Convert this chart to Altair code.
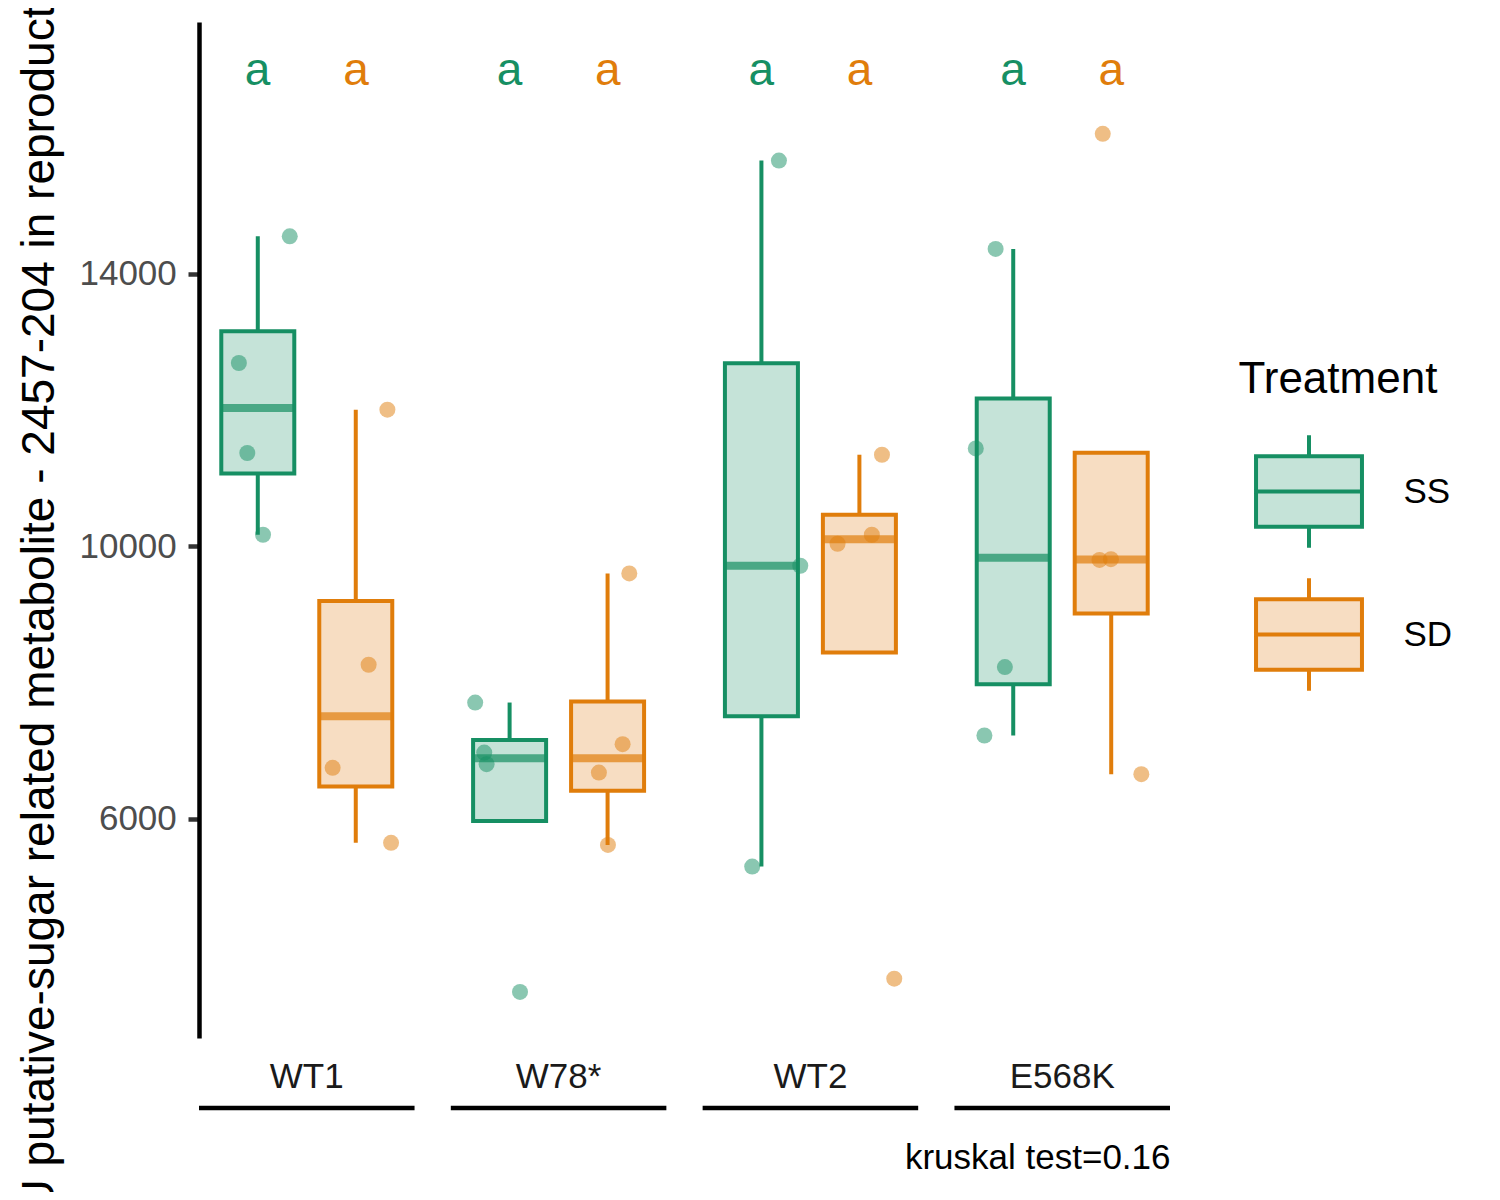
import altair as alt
import pandas as pd

# ---------------- data ----------------
genotypes = ["WT1", "W78*", "WT2", "E568K"]
treatments = ["SS", "SD"]

values = {
    ("WT1", "SS"): [14547, 12689, 11368, 10169],
    ("WT1", "SD"): [12004, 8261, 6749, 5648],
    ("W78*", "SS"): [7707, 6973, 6803, 3461],
    ("W78*", "SD"): [9601, 7096, 6680, 5618],
    ("WT2", "SS"): [15659, 9714, 5300],
    ("WT2", "SD"): [11343, 10169, 10037, 3656],
    ("E568K", "SS"): [14362, 11436, 8227, 7223],
    ("E568K", "SD"): [16051, 9800, 9810, 6656],
}
# horizontal jitter of each point (fraction of the genotype band)
jitter = {
    ("WT1", "SS"): [0.149, -0.087, -0.048, 0.025],
    ("WT1", "SD"): [0.146, 0.059, -0.108, 0.163],
    ("W78*", "SS"): [-0.159, -0.117, -0.106, 0.049],
    ("W78*", "SD"): [0.100, 0.069, -0.041, 0.001],
    ("WT2", "SS"): [0.082, 0.181, -0.042],
    ("WT2", "SD"): [0.104, 0.057, -0.102, 0.161],
    ("E568K", "SS"): [-0.081, -0.173, -0.038, -0.133],
    ("E568K", "SD"): [-0.040, -0.055, -0.002, 0.139],
}
letters = {
    ("WT1", "SS"): "a", ("WT1", "SD"): "a",
    ("W78*", "SS"): "a", ("W78*", "SD"): "a",
    ("WT2", "SS"): "a", ("WT2", "SD"): "a",
    ("E568K", "SS"): "a", ("E568K", "SD"): "a",
}
y_title = "AU putative-sugar related metabolite - 2457-204 in reproductive tissue"
caption = "kruskal test=0.16"

dark = ["#168F63", "#E07D0B"]
light = ["#C5E3D8", "#F7DDC2"]

# ---------------- tables ----------------
dodge = {"SS": -0.228, "SD": 0.228}
rows = []
for (g, t), vals in values.items():
    for v, j in zip(vals, jitter[(g, t)]):
        rows.append({"genotype": g, "treatment": t, "value": v,
                     "xoff": dodge[t] + j})
df = pd.DataFrame(rows)

top = 1.06 * df["value"].max()
lab_df = pd.DataFrame([{"genotype": g, "treatment": t, "letter": l, "ly": top,
                        "xoff": dodge[t]}
                       for (g, t), l in letters.items()])
geno_df = pd.DataFrame({"genotype": genotypes})

# ---------------- encodings ----------------
W, H = 971, 1016
FONT = "Liberation Sans"

y_scale = alt.Scale(domain=[2785, 17692], nice=False, zero=False)
x_enc = alt.X(
    "genotype:N", sort=genotypes,
    scale=alt.Scale(domain=genotypes, paddingInner=0.144, paddingOuter=0),
    axis=alt.Axis(
        title=caption, titleAnchor="end", titleY=102, titleFontSize=35,
        titleFontWeight="normal", titleColor="black",
        labelFontSize=35, labelColor="#1A1A1A", labelPadding=21,
        ticks=False, tickSize=0, domain=False, labelAngle=0,
    ),
)
xoff_nom = alt.XOffset(
    "treatment:N", sort=treatments,
    scale=alt.Scale(type="band", domain=treatments, paddingInner=0, paddingOuter=0.1),
)
xoff_q = alt.XOffset("xoff:Q", scale=alt.Scale(domain=[-0.5, 0.5]))
# colour of lines, dots and letters (no legend of its own; domain listed in
# reverse order so that it stays apart from the fill/stroke legend)
col_dark = alt.Color("treatment:N",
                     scale=alt.Scale(domain=treatments[::-1], range=dark[::-1]),
                     legend=None)

path = ("M-0.94,-0.624L0.94,-0.624L0.94,0.624L-0.94,0.624Z "
        "M-0.94,0L0.94,0 M0,-0.624L0,-1 M0,0.624L0,1")

leg = alt.Legend(
    title="Treatment", orient="none", legendX=1039.5, legendY=336,
    titleFontSize=44, titleFontWeight="normal", titleColor="black",
    titlePadding=31, titleLimit=500,
    labelFontSize=35, labelColor="black", labelOffset=36,
    symbolType=path, symbolSize=12700, symbolStrokeWidth=4,
    symbolOffset=12, rowPadding=14,
)

stats = (
    alt.Chart(df)
    .transform_joinaggregate(q1="q1(value)", q3="q3(value)", med="median(value)",
                             groupby=["genotype", "treatment"])
    .transform_calculate(lo="datum.q1 - 1.5*(datum.q3 - datum.q1)",
                         hi="datum.q3 + 1.5*(datum.q3 - datum.q1)")
    .transform_filter("datum.value >= datum.lo && datum.value <= datum.hi")
    .transform_aggregate(lw="min(value)", uw="max(value)", q1="min(q1)",
                         q3="min(q3)", med="min(med)",
                         groupby=["genotype", "treatment"])
)

whisker = stats.mark_rule(strokeWidth=4).encode(
    x=x_enc, xOffset=xoff_nom,
    y=alt.Y("lw:Q", scale=y_scale,
            axis=alt.Axis(title=y_title, values=[6000, 10000, 14000], format="d",
                          labelFontSize=35, labelColor="#4D4D4D",
                          tickSize=11, tickWidth=4.5, tickColor="#333333",
                          domainColor="black", domainWidth=4.5,
                          labelPadding=11.7, grid=False,
                          titleFontSize=46, titleFontWeight="normal",
                          titleColor="black", titlePadding=15,
                          titleY=506)),
    y2="uw:Q",
    color=col_dark,
)

box = stats.mark_bar(size=73, strokeWidth=4).encode(
    x=x_enc, xOffset=xoff_nom,
    y=alt.Y("q1:Q", scale=y_scale), y2="q3:Q",
    fill=alt.Fill("treatment:N", scale=alt.Scale(domain=treatments, range=light), legend=leg),
    stroke=alt.Stroke("treatment:N", scale=alt.Scale(domain=treatments, range=dark), legend=leg),
)

median = stats.mark_tick(size=73, thickness=8).encode(
    x=x_enc, xOffset=xoff_nom,
    y=alt.Y("med:Q", scale=y_scale),
    color=col_dark,
)

points = alt.Chart(df).mark_circle(size=256, opacity=0.5).encode(
    x=x_enc, xOffset=xoff_q,
    y=alt.Y("value:Q", scale=y_scale),
    color=col_dark,
)

text = alt.Chart(lab_df).mark_text(fontSize=46, baseline="middle", dy=3).encode(
    x=x_enc, xOffset=xoff_q,
    y=alt.Y("ly:Q", scale=y_scale),
    text="letter:N",
    color=col_dark,
)

underline = alt.Chart(geno_df).mark_bar(color="black").encode(
    x=x_enc,
    y=alt.value(1083.8), y2=alt.value(1088.2),
)

chart = (
    alt.layer(whisker, box, median, points, text, underline)
    .resolve_scale(xOffset="independent")
    .properties(
        width=W, height=H,
        autosize=alt.AutoSizeParams(type="none"),
        padding={"left": 191, "top": 14, "right": 322, "bottom": 154},
    )
    .configure(font=FONT)
    .configure_view(stroke=None)
)

chart.save("out.html", embed_options={"renderer": "svg", "actions": False})
